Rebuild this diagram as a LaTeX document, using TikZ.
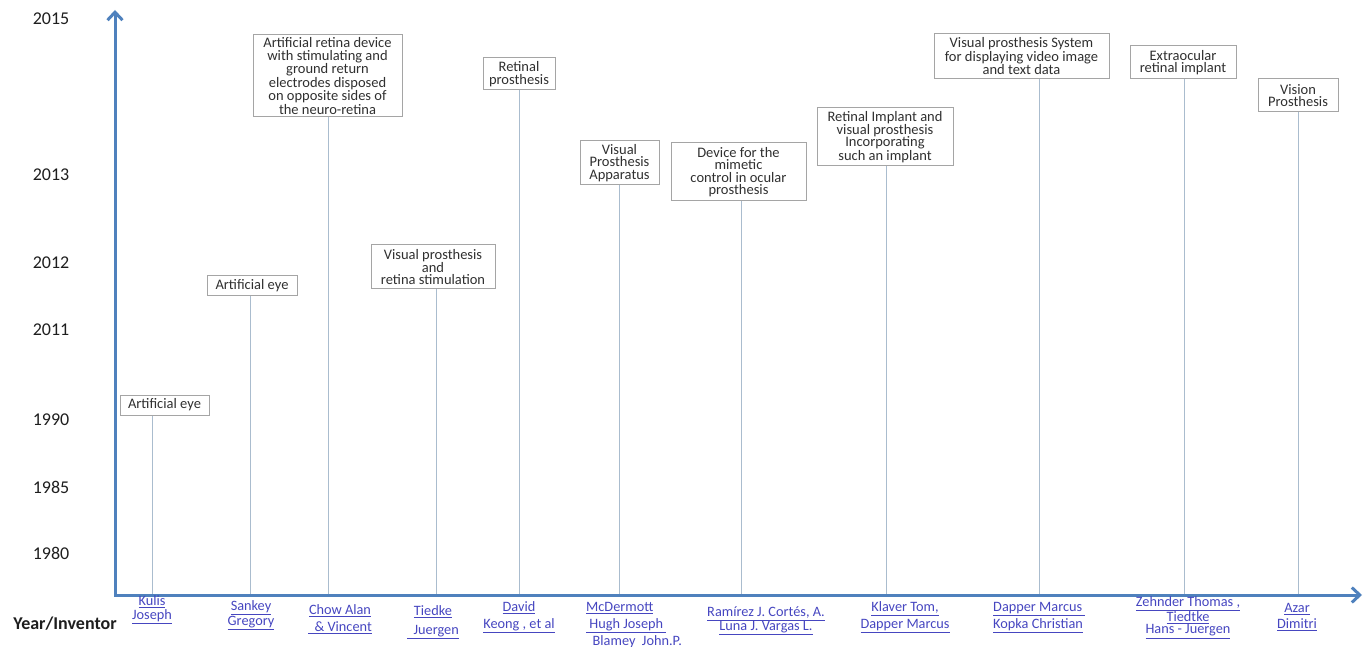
\documentclass[tikz,border=0pt]{standalone}
\usepackage{fontspec}
\setmainfont{Carlito}
\usetikzlibrary{arrows.meta}
\definecolor{axisblue}{RGB}{79,129,189}
\definecolor{connc}{RGB}{170,188,206}
\definecolor{boxgray}{RGB}{165,165,165}
\definecolor{txt}{RGB}{48,48,48}
\definecolor{yeartxt}{RGB}{30,30,30}
\definecolor{linkc}{RGB}{70,70,192}
\newcommand{\lnk}[1]{\underline{#1}}
\begin{document}
\begin{tikzpicture}[x=1pt,y=-1pt,
  box/.style={draw=boxgray,line width=1pt,fill=white,inner sep=0pt,align=center,text=txt,font=\fontsize{14.5}{12.4}\selectfont},
  conn/.style={draw=connc,line width=1pt},
  axisline/.style={draw=axisblue,line width=3pt,line join=miter,{Straight Barb[length=8pt,width=15pt]}-{Straight Barb[length=8pt,width=15pt]}},
  year/.style={text=yeartxt,font=\fontsize{18}{20}\selectfont,inner sep=0pt},
  inv/.style={text=linkc,inner sep=0pt,align=center,font=\fontsize{14.3}{13}\selectfont},
  invl/.style={inv,align=left,anchor=west}]
\useasboundingbox (0,0) rectangle (1369,647);

% year labels
\node[year] (y2015) at (51,19) {2015};
\node[year] (y2013) at (51,175) {2013};
\node[year] (y2012) at (51,263) {2012};
\node[year] (y2011) at (51,330) {2011};
\node[year] (y1990) at (51,420) {1990};
\node[year] (y1985) at (51,487) {1985};
\node[year] (y1980) at (51,553) {1980};
\node[year,font=\fontsize{18}{20}\selectfont\bfseries] (yi) at (65,624) {Year/Inventor};

% axis anchor points
\coordinate (O) at (115,595);
\coordinate (Ytop) at (115,10);
\coordinate (Xend) at (1362,595);

% boxes
\node[box,minimum width=89pt,minimum height=20pt] (b1) at (164.5,405) {Artificial eye};
\node[box,minimum width=90pt,minimum height=20pt] (b2) at (252,286) {Artificial eye};
\node[box,minimum width=149pt,minimum height=82pt] (b3) at (327.5,76) {Artificial retina device\\with stimulating and\\ground return\\electrodes disposed\\on opposite sides of\\the neuro-retina};
\node[box,minimum width=124pt,minimum height=44pt] (b4) at (433,267) {Visual prosthesis\\and\\retina stimulation};
\node[box,minimum width=72pt,minimum height=32pt] (b5) at (519,74) {Retinal\\prosthesis};
\node[box,minimum width=79pt,minimum height=44pt] (b6) at (619.5,163) {Visual\\Prosthesis\\Apparatus};
\node[box,minimum width=135pt,minimum height=58pt] (b7) at (738.5,172) {Device for the\\mimetic\\control in ocular\\prosthesis};
\node[box,minimum width=136pt,minimum height=58pt] (b8) at (885,137) {Retinal Implant and\\visual prosthesis\\Incorporating\\such an implant};
\node[box,minimum width=175pt,minimum height=45pt] (b9) at (1021.5,56.5) {Visual prosthesis System\\for displaying video image\\and text data};
\node[box,minimum width=106pt,minimum height=33pt] (b10) at (1183,62.5) {Extraocular\\retinal implant};
\node[box,minimum width=80pt,minimum height=33pt] (b11) at (1298,95.5) {Vision\\Prosthesis};

% connector feet on the axis
\coordinate (a1) at (152,595);
\coordinate (a2) at (250,595);
\coordinate (a3) at (328,595);
\coordinate (a4) at (436,595);
\coordinate (a5) at (519,595);
\coordinate (a6) at (619,595);
\coordinate (a7) at (741,595);
\coordinate (a8) at (886,595);
\coordinate (a9) at (1039,595);
\coordinate (a10) at (1184,595);
\coordinate (a11) at (1298,595);

\foreach \i in {1,...,11} {
  \draw[conn] (b\i.south -| a\i) -- (a\i);
}

% axes
\draw[axisline] (Ytop) -- (O) -- (Xend);

% inventors
\node[inv,font=\fontsize{14.3}{14}\selectfont] (i1) at (152,610) {\lnk{Kulis}\\\lnk{Joseph}};
\node[inv,font=\fontsize{14.3}{13}\selectfont] (i2) at (251,615.5) {\lnk{Sankey}\\\lnk{Gregory}};
\node[inv,font=\fontsize{14.3}{17}\selectfont] (i3) at (340,619.5) {\lnk{Chow Alan}\\\lnk{\ \ \& Vincent}};
\node[inv,font=\fontsize{14.3}{19}\selectfont] (i4) at (433,622.5) {\lnk{Tiedke}\\\lnk{\ \ Juergen}};
\node[inv,font=\fontsize{14.3}{17}\selectfont] (i5) at (519,617.5) {\lnk{David}\\\lnk{Keong , et al}};
\node[invl,font=\fontsize{14.3}{17}\selectfont] (i6) at (586,625) {\lnk{McDermott}\\\lnk{\ Hugh Joseph\ }\\\ \ Blamey\ \ John.P.};
\node[inv,font=\fontsize{14.3}{12}\selectfont] (i7) at (766,621) {\lnk{Ramírez J. Cortés, A.}\\\lnk{Luna J. Vargas L.}};
\node[inv,font=\fontsize{14.3}{17}\selectfont] (i8) at (905,617.5) {\lnk{Klaver Tom,}\\\lnk{Dapper Marcus}};
\node[invl,font=\fontsize{14.3}{17}\selectfont] (i9) at (993,617.5) {\lnk{Dapper Marcus\ }\\\lnk{Kopka Christian}};
\node[inv,font=\fontsize{14.3}{12.5}\selectfont] (i10) at (1188,617.5) {\lnk{Zehnder Thomas ,}\\\lnk{Tiedtke}\\\lnk{Hans - Juergen}};
\node[inv,font=\fontsize{14.3}{16}\selectfont] (i11) at (1297,617) {\lnk{Azar}\\\lnk{Dimitri}};
\end{tikzpicture}
\end{document}
